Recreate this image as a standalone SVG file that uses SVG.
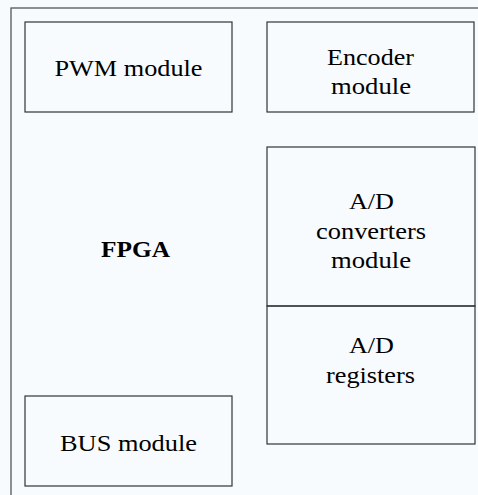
<svg xmlns="http://www.w3.org/2000/svg" width="478" height="495" viewBox="0 0 478 495">
  <style>
    .frame { fill: none; stroke: #555; stroke-width: 1.3; }
    .box { fill: none; stroke: #333; stroke-width: 1.2; }
    text { font-family: 'Liberation Serif', 'Times New Roman', Times, serif; font-size: 24px; fill: #000; text-anchor: middle; }
    .title { font-weight: bold; font-size: 24px; }
  </style>
  <rect width="478" height="495" fill="#f8fbfe"/>
  <!-- FPGA outline (extends past the right and bottom edges) -->
  <rect class="frame" x="11" y="8" width="480" height="500"/>
  <g id="fpga">
    <text class="title" x="135.5" y="257" textLength="69" lengthAdjust="spacingAndGlyphs">FPGA</text>
  </g>
  <g id="pwm">
    <rect class="box" x="25" y="22" width="207" height="90"/>
    <text x="128.5" y="76" textLength="148" lengthAdjust="spacingAndGlyphs">PWM module</text>
  </g>
  <g id="encoder">
    <rect class="box" x="267" y="22" width="207" height="90"/>
    <text x="370.5" y="65" textLength="87" lengthAdjust="spacingAndGlyphs">Encoder</text>
    <text x="371" y="94" textLength="80" lengthAdjust="spacingAndGlyphs">module</text>
  </g>
  <g id="adc">
    <rect class="box" x="267" y="147" width="208" height="159"/>
    <text x="371.5" y="209" textLength="45" lengthAdjust="spacingAndGlyphs">A/D</text>
    <text x="371" y="239" textLength="110" lengthAdjust="spacingAndGlyphs">converters</text>
    <text x="371" y="268" textLength="80" lengthAdjust="spacingAndGlyphs">module</text>
  </g>
  <g id="adreg">
    <rect class="box" x="267" y="306" width="208" height="138"/>
    <text x="371.5" y="353" textLength="45" lengthAdjust="spacingAndGlyphs">A/D</text>
    <text x="370.5" y="383" textLength="89" lengthAdjust="spacingAndGlyphs">registers</text>
  </g>
  <g id="bus">
    <rect class="box" x="25" y="396" width="207" height="90"/>
    <text x="128.5" y="451" textLength="137" lengthAdjust="spacingAndGlyphs">BUS module</text>
  </g>
  <g id="connectors"/>
</svg>
